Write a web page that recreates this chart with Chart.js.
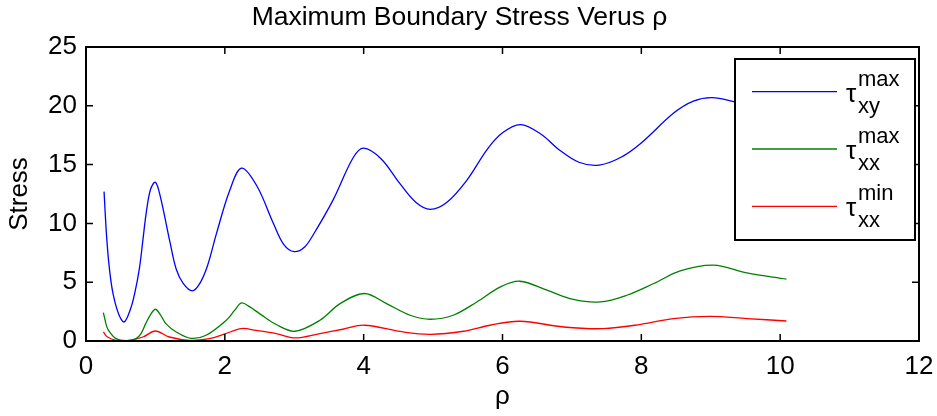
<!DOCTYPE html>
<html>
<head>
<meta charset="utf-8">
<script src="https://cdn.jsdelivr.net/npm/chart.js@4.4.0/dist/chart.umd.min.js"></script>
<style>
  html, body { margin: 0; padding: 0; background: #fff; }
  #wrap { width: 937px; height: 416px; }
</style>
</head>
<body>
<div id="wrap"><canvas id="stressChart"></canvas></div>
<script>
// values (rho, stress)
const tauXyMaxRho = [0.26, 0.30, 0.34, 0.39, 0.47, 0.55, 0.64, 0.70, 0.77, 0.82, 0.87, 0.93, 1.00, 1.07, 1.21, 1.30, 1.40, 1.53, 1.64, 1.75, 1.88, 2.07, 2.24, 2.46, 2.70, 2.85, 3.00, 3.15, 3.28, 3.56, 3.85, 4.00, 4.25, 4.52, 4.75, 4.96, 5.20, 5.49, 5.78, 6.00, 6.26, 6.55, 6.83, 7.10, 7.39, 7.70, 7.99, 8.47, 8.75, 9.02, 9.33, 9.60, 9.85, 10.09];
const tauXyMax    = [12.7, 8.6, 6.0, 4.0, 2.3, 1.62, 2.7, 4.0, 6.2, 8.6, 11.0, 12.9, 13.5, 12.3, 8.4, 6.1, 4.9, 4.26, 4.9, 6.4, 9.15, 12.8, 14.7, 13.2, 10.0, 8.2, 7.6, 8.0, 9.1, 12.0, 15.6, 16.4, 15.5, 13.4, 11.8, 11.2, 11.8, 13.7, 16.3, 17.7, 18.4, 17.6, 16.2, 15.2, 14.95, 15.6, 16.8, 19.4, 20.4, 20.7, 20.35, 19.9, 19.3, 18.9];

const tauXxMaxRho = [0.25, 0.30, 0.34, 0.43, 0.58, 0.72, 0.79, 0.86, 0.93, 1.00, 1.07, 1.15, 1.30, 1.51, 1.73, 2.02, 2.14, 2.24, 2.36, 2.50, 2.74, 3.01, 3.37, 3.66, 4.01, 4.33, 4.67, 4.96, 5.29, 5.63, 5.97, 6.25, 6.64, 7.02, 7.41, 7.79, 8.18, 8.56, 9.04, 9.52, 10.09];
const tauXxMax    = [2.42, 1.2, 0.77, 0.2, 0.03, 0.2, 0.6, 1.48, 2.25, 2.7, 2.25, 1.48, 0.77, 0.23, 0.49, 1.76, 2.6, 3.24, 2.9, 2.33, 1.40, 0.83, 1.76, 3.18, 4.04, 3.18, 2.19, 1.85, 2.19, 3.32, 4.6, 5.08, 4.32, 3.53, 3.32, 3.89, 4.89, 5.96, 6.45, 5.79, 5.26];

const tauXxMinRho = [0.25, 0.31, 0.43, 0.58, 0.82, 1.00, 1.20, 1.49, 1.78, 2.00, 2.24, 2.45, 2.74, 3.01, 3.37, 3.70, 4.01, 4.57, 4.96, 5.44, 5.82, 6.25, 6.88, 7.45, 7.98, 8.46, 8.99, 9.52, 10.09];
const tauXxMin    = [0.77, 0.34, 0.06, 0.0, 0.34, 0.85, 0.34, 0.06, 0.2, 0.6, 1.06, 0.9, 0.63, 0.26, 0.63, 1.0, 1.34, 0.77, 0.57, 0.83, 1.34, 1.68, 1.19, 1.05, 1.40, 1.91, 2.1, 1.91, 1.7];

const seriesColors = ['#0000ff', '#008000', '#ff0000'];
const legendSup = ['max', 'max', 'min'];
const legendSub = ['xy', 'xx', 'xx'];

const xTicks = [0, 2, 4, 6, 8, 10, 12];
const yTicks = [0, 5, 10, 15, 20, 25];

const FONT = "'Liberation Sans', Arial, sans-serif";

const toPoints = (xs, ys) => xs.map((x, i) => ({ x: x, y: ys[i] }));

// MATLAB style box: frame, inward ticks on all four sides, legend box
const matlabBox = {
    id: 'matlabBox',
    afterDatasetsDraw(chart) {
        const ctx = chart.ctx;
        const a = chart.chartArea;
        const xs = chart.scales.x, ys = chart.scales.y;
        const tl = 7;
        ctx.save();
        ctx.strokeStyle = '#000';
        ctx.lineWidth = 1.5;
        ctx.beginPath();
        xTicks.forEach(v => {
            const px = xs.getPixelForValue(v);
            ctx.moveTo(px, a.bottom); ctx.lineTo(px, a.bottom - tl);
            ctx.moveTo(px, a.top); ctx.lineTo(px, a.top + tl);
        });
        yTicks.forEach(v => {
            const py = ys.getPixelForValue(v);
            ctx.moveTo(a.left, py); ctx.lineTo(a.left + tl, py);
            ctx.moveTo(a.right, py); ctx.lineTo(a.right - tl, py);
        });
        ctx.stroke();
        ctx.lineWidth = 2;
        ctx.strokeRect(a.left, a.top, a.right - a.left, a.bottom - a.top);

        // legend
        const lx = a.right - 184, ly = a.top + 12, lw = 180, lh = 181;
        ctx.fillStyle = '#fff';
        ctx.fillRect(lx, ly, lw, lh);
        ctx.lineWidth = 2;
        ctx.strokeRect(lx, ly, lw, lh);
        chart.data.datasets.forEach((ds, i) => {
            const yy = ly + 32.7 + i * 57.3;
            ctx.strokeStyle = ds.borderColor;
            ctx.lineWidth = 1.3;
            ctx.beginPath();
            ctx.moveTo(lx + 17, yy); ctx.lineTo(lx + 102, yy);
            ctx.stroke();
            ctx.fillStyle = '#000';
            ctx.textBaseline = 'alphabetic';
            ctx.textAlign = 'left';
            ctx.font = '26px ' + FONT;
            ctx.fillText('\u03c4', lx + 111, yy + 10);
            ctx.font = '22px ' + FONT;
            ctx.fillText(legendSup[i], lx + 123, yy - 6);
            ctx.fillText(legendSub[i], lx + 123, yy + 21);
        });
        ctx.restore();
    }
};

new Chart(document.getElementById('stressChart'), {
    type: 'line',
    data: {
        datasets: [
            { label: 'tau_xy max', data: toPoints(tauXyMaxRho, tauXyMax), borderColor: seriesColors[0] },
            { label: 'tau_xx max', data: toPoints(tauXxMaxRho, tauXxMax), borderColor: seriesColors[1] },
            { label: 'tau_xx min', data: toPoints(tauXxMinRho, tauXxMin), borderColor: seriesColors[2] }
        ].map(d => Object.assign(d, {
            borderWidth: 1.3,
            pointRadius: 0,
            fill: false,
            tension: 0.35
        }))
    },
    options: {
        responsive: true,
        maintainAspectRatio: false,
        animation: false,
        layout: { padding: { left: 0, right: 18, top: 0, bottom: 0 } },
        scales: {
            x: {
                type: 'linear',
                min: 0, max: 12,
                afterBuildTicks: s => { s.ticks = xTicks.map(v => ({ value: v })); },
                afterFit: s => { s.height = 75; s.paddingLeft = 0; s.paddingRight = 0; },
                grid: { display: false, drawTicks: false },
                border: { display: false },
                ticks: { color: '#000', font: { family: FONT, size: 26 }, padding: 10, maxRotation: 0 },
                title: { display: true, text: '\u03c1', color: '#000', font: { family: FONT, size: 26 }, padding: { top: 0, bottom: 4 } }
            },
            y: {
                min: 0, max: 25,
                afterBuildTicks: s => { s.ticks = yTicks.map(v => ({ value: v })); },
                afterFit: s => { s.width = 86; s.paddingTop = 0; s.paddingBottom = 0; },
                grid: { display: false, drawTicks: false },
                border: { display: false },
                ticks: { color: '#000', font: { family: FONT, size: 26 }, padding: 9 },
                title: { display: true, text: 'Stress', color: '#000', font: { family: FONT, size: 26 }, padding: { top: 4, bottom: 0 } }
            }
        },
        plugins: {
            legend: { display: false },
            tooltip: { enabled: false },
            title: {
                display: true,
                text: 'Maximum Boundary Stress Verus \u03c1',
                color: '#000',
                font: { family: FONT, size: 26.5, weight: 'normal' },
                padding: { top: 2, bottom: 13.2 }
            }
        }
    },
    plugins: [matlabBox]
});
</script>
</body>
</html>
